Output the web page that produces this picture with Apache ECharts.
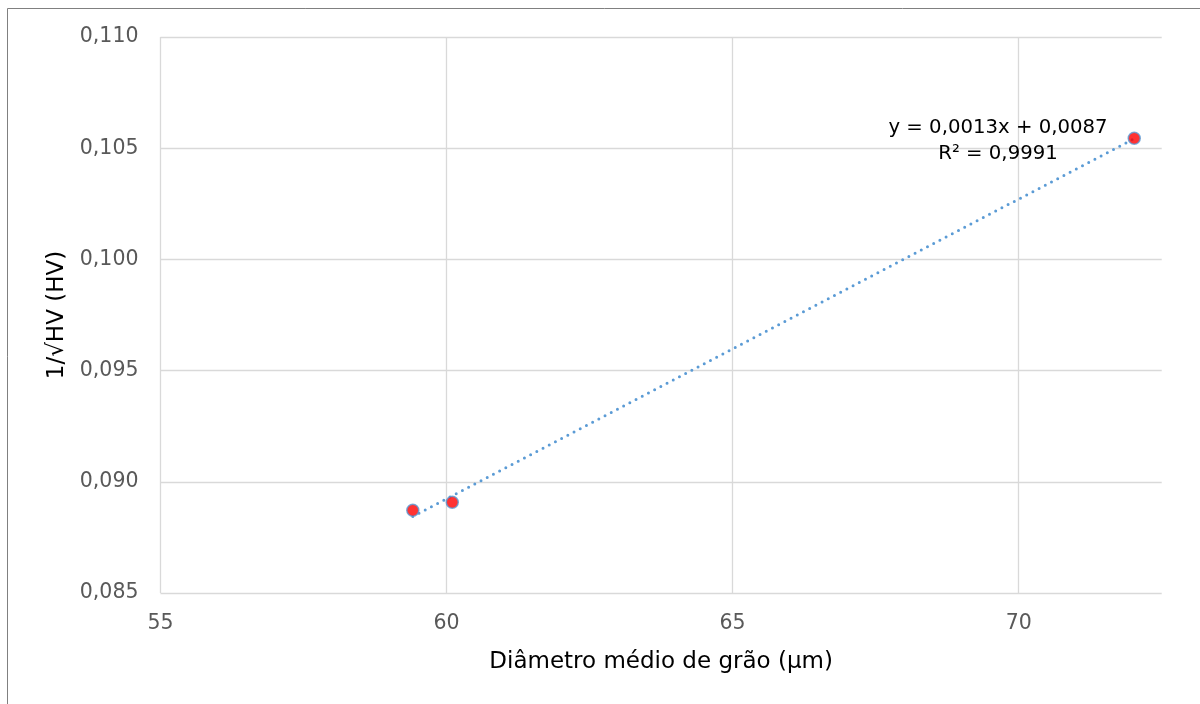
<!DOCTYPE html>
<html><head><meta charset="utf-8">
<script src="https://cdn.jsdelivr.net/npm/echarts@6/dist/echarts.min.js"></script>
<style>html,body{margin:0;padding:0;background:#fff}#c{width:1200px;height:704px}</style>
</head><body><div id="c"></div>
<script>
const xValues = [59.41, 60.10, 72.02];
const yValues = [0.08872, 0.08908, 0.10545];
const xTitle = 'Diâmetro médio de grão (µm)';
const yTitle = '1/√HV (HV)';
const eqLine1 = 'y = 0,0013x + 0,0087';
const eqLine2 = 'R² = 0,9991';

const FONT = '"DejaVu Sans", sans-serif';

// least-squares trendline from the data
const n = xValues.length;
const mx = xValues.reduce((a,b)=>a+b,0)/n;
const my = yValues.reduce((a,b)=>a+b,0)/n;
let sxy=0, sxx=0;
for (let i=0;i<n;i++){ sxy += (xValues[i]-mx)*(yValues[i]-my); sxx += (xValues[i]-mx)**2; }
const slope = sxy/sxx, icpt = my - slope*mx;
const xMin = Math.min(...xValues), xMax = Math.max(...xValues);
const trend = [[xMin, slope*xMin+icpt],[xMax, slope*xMax+icpt]];

const chart = echarts.init(document.getElementById('c'), null, {renderer:'canvas'});
chart.setOption({
  animation:false,
  backgroundColor:'#fff',
  grid:{left:160.5, right:38.3, top:37, bottom:111, containLabel:false},
  xAxis:{
    type:'value', min:55, max:72.5, interval:5,
    name:xTitle, nameLocation:'middle', nameGap:58,
    nameTextStyle:{color:'#000', fontSize:23, fontFamily:FONT},
    axisLine:{show:false}, axisTick:{show:false},
    axisLabel:{showMaxLabel:false, color:'#595959', fontSize:20.5, fontFamily:FONT, margin:20},
    splitLine:{show:true, showMaxLine:false, lineStyle:{color:'#d9d9d9', width:1.3}}
  },
  yAxis:{
    type:'value', min:0.085, max:0.110, interval:0.005,
    name:yTitle, nameLocation:'middle', nameGap:92, nameRotate:90,
    nameTextStyle:{color:'#000', fontSize:23, fontFamily:FONT},
    axisLine:{show:false}, axisTick:{show:false},
    axisLabel:{color:'#595959', fontSize:20.5, fontFamily:FONT, margin:22,
      formatter:v=>v.toFixed(3).replace('.',',')},
    splitLine:{show:true, lineStyle:{color:'#d9d9d9', width:1.3}}
  },
  series:[
    {type:'line', data:trend, symbol:'none', z:2,
     lineStyle:{color:'#5B9BD5', width:3, type:[0,7], cap:'round'}},
    {type:'scatter', data:xValues.map((x,i)=>[x,yValues[i]]), symbol:'circle', symbolSize:12, z:3,
     itemStyle:{color:'#FF0000', borderColor:'#5B9BD5', borderWidth:1.5}}
  ],
  graphic:[
    {type:'rect', shape:{x:7.5, y:8.5, width:1400, height:900}, style:{fill:'none', stroke:'#808080', lineWidth:1}, silent:true, z:-1},
    {type:'text', style:{text:eqLine1, x:998, y:128, textAlign:'center', textVerticalAlign:'middle', fill:'#000', font:'19.7px '+FONT}, z:10},
    {type:'text', style:{text:eqLine2, x:998, y:154, textAlign:'center', textVerticalAlign:'middle', fill:'#000', font:'19.7px '+FONT}, z:10}
  ]
});
</script></body></html>
